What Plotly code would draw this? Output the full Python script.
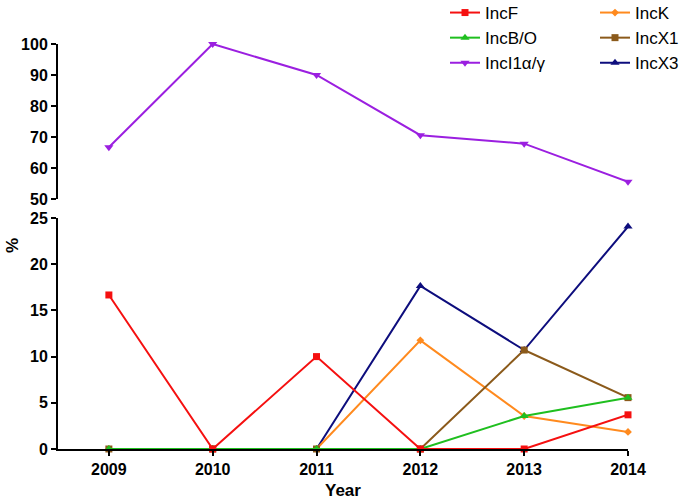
import plotly.graph_objects as go

years = [2009, 2010, 2011, 2012, 2013, 2014]
incF = [16.67, 0, 10.0, 0, 0, 3.70]
incBO = [0, 0, 0, 0, 3.57, 5.56]
incI1 = [66.67, 100, 90.0, 70.59, 67.86, 55.56]
incK = [0, 0, 0, 11.76, 3.57, 1.85]
incX1 = [0, 0, 0, 0, 10.71, 5.56]
incX3 = [None, None, 0, 17.65, 10.71, 24.07]

H = 500; W = 685
ML, MR, MT, MB = 58, 57, 44, 51
PH = H - MT - MB
PW = W - ML - MR

def py(pix):
    return (H - MB - pix) / PH

def px(pix):
    return (pix - ML) / PW

fig = go.Figure()

def add(name, vals, color, symbol, size, yaxis, legend, rank):
    fig.add_trace(go.Scatter(
        x=years, y=vals, name=name, mode="lines+markers",
        line=dict(color=color, width=2),
        marker=dict(color=color, symbol=symbol, size=size),
        yaxis=yaxis, legend=legend, legendrank=rank, cliponaxis=False,
        connectgaps=False))

add("IncI1α/γ", incI1, "#9b1fe0", "triangle-down", 8, "y2", "legend", 3)
add("IncX3", incX3, "#0d0d7d", "triangle-up", 8, "y", "legend2", 3)
add("IncK", incK, "#ff8a1e", "diamond", 6, "y", "legend2", 1)
add("IncX1", incX1, "#8b5a1b", "square", 7, "y", "legend2", 2)
add("IncB/O", incBO, "#1fbf1f", "triangle-up", 8, "y", "legend", 2)
add("IncF", incF, "#f51010", "square", 7, "y", "legend", 1)

tickfont = dict(family="Liberation Sans, Arial, sans-serif", size=16, color="black", weight="bold")
axcommon = dict(showline=True, linecolor="black", linewidth=2, ticks="outside",
                ticklen=5, tickwidth=2, tickcolor="black", showgrid=False,
                zeroline=False, tickfont=tickfont, automargin=False)

legfont = dict(family="Liberation Sans, Arial, sans-serif", size=17, color="black")
titlefont = dict(family="Liberation Sans, Arial, sans-serif", size=17, color="black", weight="bold")

fig.update_layout(
    width=W, height=H, plot_bgcolor="white", paper_bgcolor="white",
    margin=dict(l=ML, r=MR, t=MT, b=MB, autoexpand=False),
    xaxis=dict(range=[2008.51, 2014], tickvals=years, ticktext=[str(y) for y in years],
               anchor="y", **axcommon),
    yaxis=dict(range=[0, 25], tickvals=[0, 5, 10, 15, 20, 25], domain=[0, py(218)],
               anchor="x", **axcommon),
    yaxis2=dict(range=[50, 100], tickvals=[50, 60, 70, 80, 90, 100], domain=[py(199), 1],
                anchor="x", **axcommon),
    legend=dict(x=px(445), y=py(-5), xanchor="left", yanchor="top", font=legfont,
                bgcolor="rgba(0,0,0,0)", traceorder="normal"),
    legend2=dict(x=px(595), y=py(-5), xanchor="left", yanchor="top", font=legfont,
                 bgcolor="rgba(0,0,0,0)", traceorder="normal"),
    annotations=[
        dict(text="%", x=px(12), y=py(246), xref="paper", yref="paper",
             xanchor="center", yanchor="middle",
             showarrow=False, textangle=-90, font=titlefont),
        dict(text="Year", x=px(343), y=py(490), xref="paper", yref="paper",
             xanchor="center", yanchor="middle",
             showarrow=False, font=titlefont),
    ],
)

fig.write_html("out.html", config={"displayModeBar": False},
               post_script="document.body.style.margin='0';")
